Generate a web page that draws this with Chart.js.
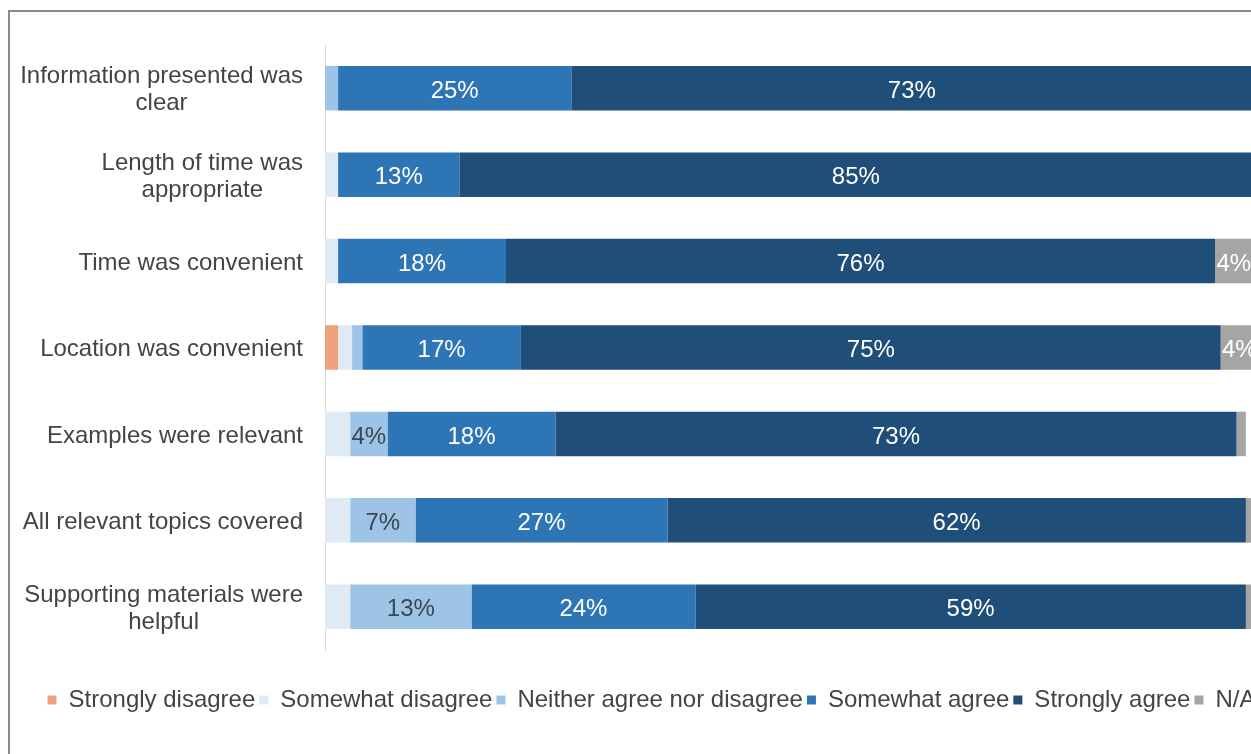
<!DOCTYPE html>
<html>
<head>
<meta charset="utf-8">
<title>Session feedback</title>
<script src="https://cdn.jsdelivr.net/npm/chart.js@4.4.0/dist/chart.umd.min.js"></script>
<style>
  html, body { margin: 0; padding: 0; background: #fff; overflow: hidden; }
  body { width: 1251px; height: 754px; position: relative; }
  .frame {
    position: absolute; left: 8px; top: 10px;
    width: 1287px; height: 760px;
    border: 2px solid #8c8c8c; box-sizing: border-box;
  }
  .frame .inner { position: relative; width: 100%; height: 100%; }
</style>
</head>
<body>
<div class="frame"><div class="inner"><canvas id="feedbackChart"></canvas></div></div>
<script>
// survey statements, top to bottom (multi-line labels are arrays)
const categories = [
  ['Information presented was', 'clear'],
  ['Length of time was', 'appropriate'],
  ['Time was convenient'],
  ['Location was convenient'],
  ['Examples were relevant'],
  ['All relevant topics covered'],
  ['Supporting materials were', 'helpful']
];

// percent of responses per answer
const stronglyDisagree = [0, 0, 0, 1.4, 0, 0, 0];
const somewhatDisagree = [0, 1.4, 1.4, 1.5, 2.7, 2.7, 2.7];
const neitherAgree     = [1.4, 0, 0, 1.1, 4, 7, 13];
const somewhatAgree    = [25, 13, 18, 17, 18, 27, 24];
const stronglyAgree    = [73, 85, 76, 75, 73, 62, 59];
const notApplicable    = [0.6, 0.6, 4, 4, 1, 1, 1];

const FONT = '"Liberation Sans", Arial, sans-serif';
const TEXT = '#444444';

// value labels centred in each wide enough segment
const segmentLabels = {
  id: 'segmentLabels',
  afterDatasetsDraw(chart) {
    const ctx = chart.ctx;
    ctx.save();
    ctx.font = '24px ' + FONT;
    ctx.textAlign = 'center';
    ctx.textBaseline = 'middle';
    chart.data.datasets.forEach((ds, i) => {
      chart.getDatasetMeta(i).data.forEach((bar, j) => {
        const v = ds.data[j];
        if (v < 3) return;
        ctx.fillStyle = i === 2 ? '#3c4650' : '#ffffff';
        ctx.fillText(v + '%', (bar.x + bar.base) / 2, bar.y + 3);
      });
    });
    ctx.restore();
  }
};

// category labels: blocks right-aligned, lines centred inside each block
const categoryLabels = {
  id: 'categoryLabels',
  afterDraw(chart) {
    const ctx = chart.ctx;
    const yScale = chart.scales.y;
    const right = chart.chartArea.left - 22;
    const lineH = 27;
    ctx.save();
    ctx.font = '24px ' + FONT;
    ctx.fillStyle = TEXT;
    ctx.textAlign = 'center';
    ctx.textBaseline = 'middle';
    categories.forEach((lines, i) => {
      const y = yScale.getPixelForValue(i) + 2;
      const w = Math.max(...lines.map(l => ctx.measureText(l).width));
      const cx = right - w / 2;
      lines.forEach((l, k) => {
        ctx.fillText(l, cx, y + (k - (lines.length - 1) / 2) * lineH);
      });
    });
    ctx.restore();
  }
};

function series(label, data, color) {
  return {
    label: label,
    data: data,
    backgroundColor: color,
    borderWidth: 0,
    barPercentage: 0.515,
    categoryPercentage: 1
  };
}

new Chart(document.getElementById('feedbackChart'), {
  type: 'bar',
  data: {
    labels: categories,
    datasets: [
      series('Strongly disagree', stronglyDisagree, '#eea27c'),
      series('Somewhat disagree', somewhatDisagree, '#dfeaf5'),
      series('Neither agree nor disagree', neitherAgree, '#9dc3e6'),
      series('Somewhat agree', somewhatAgree, '#2e75b6'),
      series('Strongly agree', stronglyAgree, '#1f4e79'),
      series('N/A', notApplicable, '#a5a5a5')
    ]
  },
  options: {
    indexAxis: 'y',
    responsive: true,
    maintainAspectRatio: false,
    animation: false,
    events: [],
    layout: { padding: { top: 33, bottom: 46 } },
    scales: {
      x: {
        stacked: true,
        min: 0,
        max: 100,
        ticks: { display: false },
        grid: { display: false },
        border: { display: false },
        afterFit: (s) => { s.height = 34; }
      },
      y: {
        stacked: true,
        ticks: { display: false },
        grid: { display: false, drawTicks: false },
        border: { display: true, color: '#d9d9d9', width: 1 },
        afterFit: (s) => { s.width = 315; }
      },
      yRight: {
        axis: 'y',
        type: 'category',
        position: 'right',
        ticks: { display: false },
        grid: { display: false, drawTicks: false },
        border: { display: false },
        afterFit: (s) => { s.width = 35; }
      }
    },
    plugins: {
      tooltip: { enabled: false },
      legend: {
        position: 'bottom',
        labels: {
          boxWidth: 9,
          boxHeight: 9,
          padding: 4,
          color: TEXT,
          font: { family: FONT, size: 24 }
        }
      }
    }
  },
  plugins: [segmentLabels, categoryLabels]
});
</script>
</body>
</html>
